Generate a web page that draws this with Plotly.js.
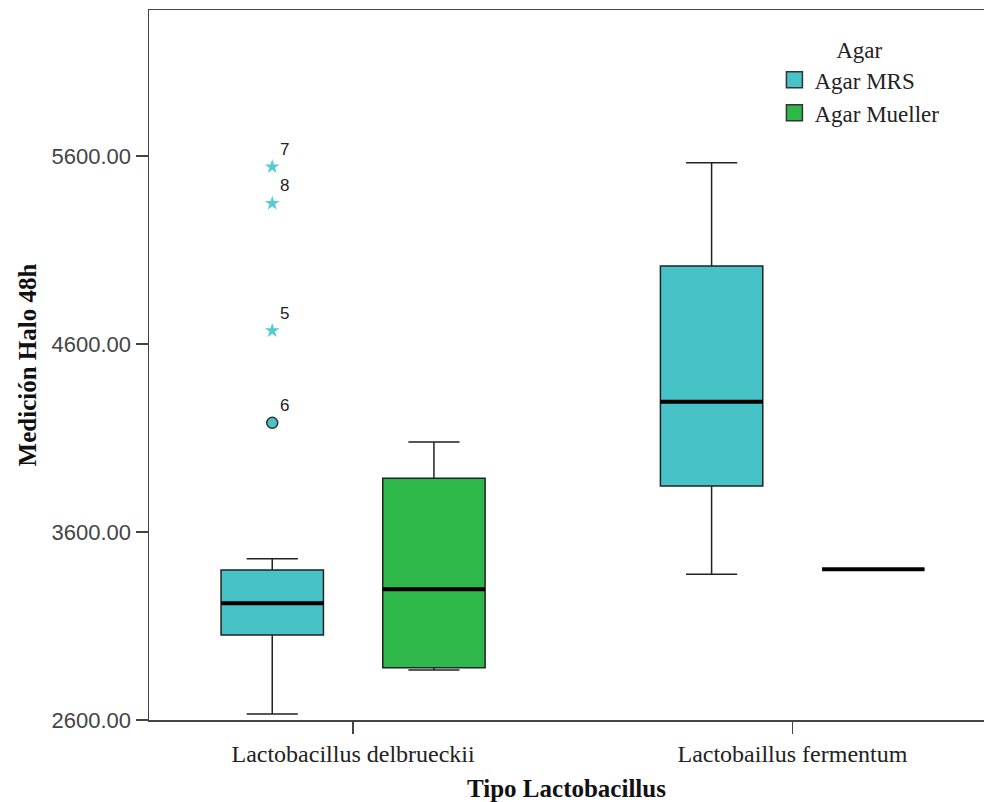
<!DOCTYPE html>
<html>
<head>
<meta charset="utf-8">
<script src="https://cdn.plot.ly/plotly-3.0.1.min.js"></script>
<style>html,body{margin:0;padding:0;background:#fff;}#chart{width:984px;height:802px;}</style>
</head>
<body>
<div id="chart"></div>
<script>
// ---- data ----
const categories = ["Lactobacillus delbrueckii", "Lactobaillus fermentum"];
const groups = ["Agar MRS", "Agar Mueller"];

const mrsLower  = [2632, 3375];
const mrsQ1     = [3052, 3845];
const mrsMedian = [3221, 4293];
const mrsQ3     = [3398, 5015];
const mrsUpper  = [3458, 5564];

const muellerLower  = [2866, 3402];
const muellerQ1     = [2878, 3402];
const muellerMedian = [3295, 3402];
const muellerQ3     = [3886, 3402];
const muellerUpper  = [4079, 3402];

// outliers (all in L. delbrueckii, Agar MRS)
const outlierCase     = ["7", "8", "5", "6"];
const outlierValue    = [5543, 5348, 4671, 4181];
const outlierExtreme  = [true, true, true, false];
const outlierCategory = [0, 0, 0, 0];

// ---- styling ----
const colors = ["#47C2C7", "#2EB84A"];
const offsets = [-0.184, 0.184];
const boxW = 0.233;
const edge = "#222222";

const stats = [
  {lo: mrsLower, q1: mrsQ1, med: mrsMedian, q3: mrsQ3, hi: mrsUpper},
  {lo: muellerLower, q1: muellerQ1, med: muellerMedian, q3: muellerQ3, hi: muellerUpper}
];

const traces = [];
stats.forEach((s, g) => {
  const xs = categories.map((c, i) => i + offsets[g]);
  traces.push({
    type: "box", name: groups[g], x: xs,
    lowerfence: s.lo, q1: s.q1, median: s.med, q3: s.q3, upperfence: s.hi,
    width: boxW, whiskerwidth: 0.5, boxpoints: false,
    fillcolor: colors[g], line: {color: edge, width: 1.5},
    showlegend: false, hoverinfo: "y"
  });
});
// thick median lines
stats.forEach((s, g) => {
  const x = [], y = [];
  categories.forEach((c, i) => {
    const cx = i + offsets[g];
    x.push(cx - boxW / 2, cx + boxW / 2, null);
    y.push(s.med[i], s.med[i], null);
  });
  traces.push({type: "scatter", mode: "lines", x, y, line: {color: "#000", width: 4},
    showlegend: false, hoverinfo: "skip"});
});
// outliers
const ox = outlierCategory.map(i => i + offsets[0]);
const ext = outlierValue.map((v, i) => outlierExtreme[i]);
const labelFont = {family: "Liberation Sans, Arial, sans-serif", size: 17, color: "#222"};
traces.push({
  type: "scatter", mode: "markers+text",
  x: ox.filter((v, i) => ext[i]), y: outlierValue.filter((v, i) => ext[i]),
  text: outlierCase.filter((v, i) => ext[i]), textposition: "top right",
  textfont: labelFont,
  marker: {symbol: "star", size: 11, color: "#55CCD2", line: {width: 0}},
  showlegend: false, cliponaxis: false
});
traces.push({
  type: "scatter", mode: "markers+text",
  x: ox.filter((v, i) => !ext[i]), y: outlierValue.filter((v, i) => !ext[i]),
  text: outlierCase.filter((v, i) => !ext[i]), textposition: "top right",
  textfont: labelFont,
  marker: {symbol: "circle", size: 11, color: colors[0], line: {width: 1.5, color: "#333"}},
  showlegend: false, cliponaxis: false
});
// legend entries
groups.forEach((gname, g) => {
  traces.push({type: "scatter", mode: "markers", x: [null], y: [null], name: gname,
    marker: {symbol: "square", size: 16, color: colors[g], line: {color: "#333", width: 1.5}},
    showlegend: true});
});

const serif = "Liberation Serif, Times New Roman, serif";
const layout = {
  width: 984, height: 802,
  margin: {l: 149, r: 0, t: 10, b: 82},
  paper_bgcolor: "#fff", plot_bgcolor: "#fff",
  showlegend: true,
  legend: {
    x: 0.749, xanchor: "left", y: 0.974, yanchor: "top",
    title: {text: "Agar", side: "top center", font: {family: serif, size: 23, color: "#222"}},
    font: {family: serif, size: 23, color: "#222"},
    itemsizing: "trace", traceorder: "normal", bgcolor: "rgba(0,0,0,0)"
  },
  xaxis: {
    range: [-0.4645, 1.436], tickmode: "array", tickvals: categories.map((c, i) => i), ticktext: categories,
    showline: true, mirror: true, linecolor: "#444", linewidth: 1.5,
    ticks: "outside", ticklen: 12, tickcolor: "#444", tickwidth: 1.5,
    showgrid: false, zeroline: false,
    tickfont: {family: serif, size: 24, color: "#222"},
    title: {text: "Tipo Lactobacillus", standoff: 14, font: {family: serif, size: 25, color: "#111", weight: "bold"}}
  },
  yaxis: {
    range: [2600, 6377], tick0: 2600, dtick: 1000, tickformat: ".2f",
    showline: true, linecolor: "#444", linewidth: 1.5,
    ticks: "outside", ticklen: 12, tickcolor: "#444", tickwidth: 1.5,
    showgrid: false, zeroline: false,
    tickfont: {family: "Liberation Sans, Arial, sans-serif", size: 22, color: "#444"},
    title: {text: "Medición Halo 48h", standoff: 8, font: {family: serif, size: 25, color: "#111", weight: "bold"}}
  },
  boxmode: "overlay"
};

Plotly.newPlot("chart", traces, layout, {displayModeBar: false, staticPlot: true});
</script>
</body>
</html>
